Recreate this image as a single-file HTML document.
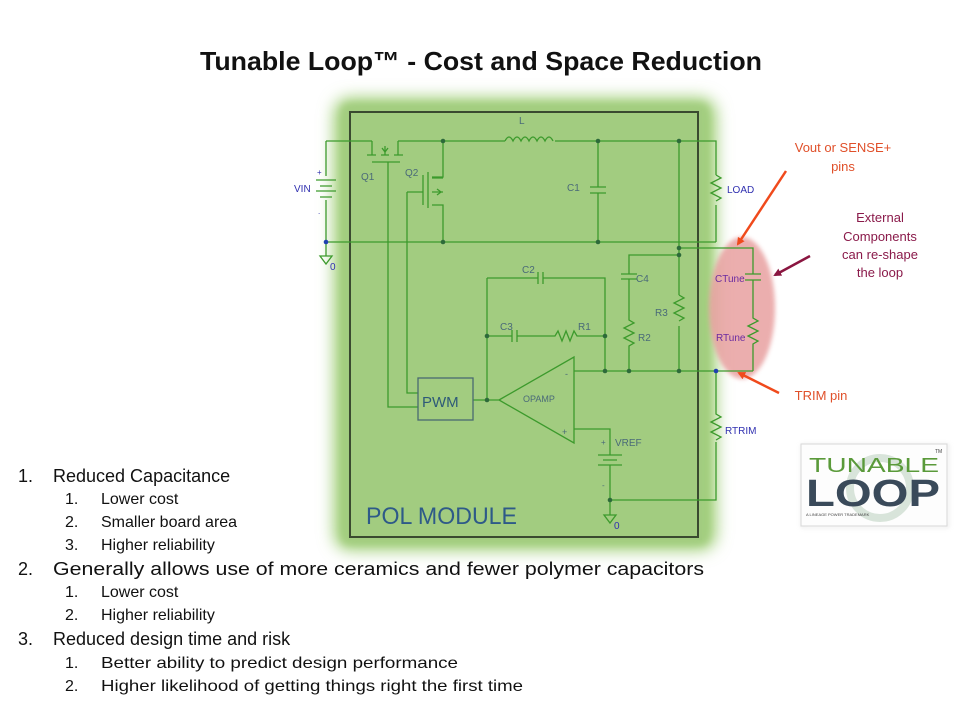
<!DOCTYPE html>
<html><head><meta charset="utf-8"><style>
html,body{margin:0;padding:0;background:#fff;}
svg{display:block;font-family:"Liberation Sans",Arial,sans-serif;}
</style></head><body>
<svg width="960" height="720" viewBox="0 0 960 720" xmlns="http://www.w3.org/2000/svg">
<defs>
<filter id="glow" x="-20%" y="-20%" width="140%" height="140%"><feGaussianBlur stdDeviation="8"/></filter>
<filter id="glow2" x="-20%" y="-20%" width="140%" height="140%"><feGaussianBlur stdDeviation="4"/></filter>
<filter id="soft" x="-20%" y="-20%" width="140%" height="140%"><feGaussianBlur stdDeviation="2"/></filter>
<marker id="ao" markerWidth="8" markerHeight="8" refX="6" refY="4" orient="auto" markerUnits="userSpaceOnUse"><path d="M0,0 L8,4 L0,8 z" fill="#f04a1c"/></marker>
<marker id="ap" markerWidth="8" markerHeight="8" refX="6" refY="4" orient="auto" markerUnits="userSpaceOnUse"><path d="M0,0 L8,4 L0,8 z" fill="#8a1540"/></marker>
</defs>
<rect width="960" height="720" fill="#fff"/>
<text x="481" y="70" text-anchor="middle" font-size="26" font-weight="bold" fill="#111" textLength="562" lengthAdjust="spacingAndGlyphs">Tunable Loop™ - Cost and Space Reduction</text>

<!-- glow module -->
<rect x="334" y="98" width="382" height="452" rx="16" fill="#9ccd72" filter="url(#glow)"/>
<rect x="342" y="104" width="366" height="440" rx="6" fill="#a3cd80" filter="url(#glow2)"/>
<rect x="348" y="110" width="354" height="430" fill="#a2cc80"/>
<rect x="350" y="112" width="348" height="425" fill="none" stroke="#3a4a30" stroke-width="2"/>

<!-- pink ellipse -->
<ellipse cx="742" cy="308" rx="33" ry="71" fill="#e8a0a0" opacity="0.85" filter="url(#soft)"/>

<g stroke="#3c9a2c" stroke-width="1.3" fill="none">
<path d="M326,141 H372 M398,141 H505 M555,141 H716 V175 M716,205 V242"/>
<path d="M505,141 q4,-8 8,0 q4,-8 8,0 q4,-8 8,0 q4,-8 8,0 q4,-8 8,0 q4,-8 8,0"/>
<path d="M326,141 V176 M316,180 H336 M320,186 H332 M316,191 H336 M320,197 H332 M326,200 V242"/>
<path d="M326,242 H716"/>
<path d="M326,242 V256 M320,256 L332,256 L326,264 Z"/>
<path d="M372,141 V155 M398,141 V155 M385,146 V155 M367,155 H376 M381,155 H389 M394,155 H403 M372,162 H400 M388,162 V407 H418"/>
<path d="M382,148 L385,152 L388,148"/>
<path d="M443,141 V177 H432 M428,172 V208 M423,175 V205 M432,178 H443 M432,192 H443 M432,205 H443 V242 M407,192 H423 M407,192 V393 H418"/>
<path d="M437,189 L441,192 L437,195"/>
<path d="M598,141 V187 M590,187 H606 M590,193 H606 M598,193 V242"/>
<path d="M679,141 V295 M679,295 l5,3 l-10,5 l10,5 l-10,5 l10,5 l-5,3 M679,326 V371"/>
<path d="M716,175 l5,3 l-10,5 l10,5 l-10,5 l10,5 l-5,3"/>
<path d="M679,248 H753 V274 M745,274 H761 M745,280 H761 M753,280 V318 l5,3 l-10,5 l10,5 l-10,5 l10,5 l-5,3 V371"/>
<path d="M679,255 H629 V274 M621,274 H637 M621,279 H637 M629,279 V320 l5,3 l-10,5 l10,5 l-10,5 l10,5 l-5,3 V371"/>
<path d="M487,278 H538 M538,272 V284 M543,272 V284 M543,278 H605 V371"/>
<path d="M487,278 V400"/>
<path d="M487,336 H512 M512,330 V342 M517,330 V342 M517,336 H555 l3,-5 l4,10 l4,-10 l4,10 l4,-10 l3,5 H605"/>
<path d="M574,371 H753"/>
<path d="M499,400 L574,357 V443 Z M473,400 H499"/>
<rect x="418" y="378" width="55" height="42" stroke="#4a6a70"/>
<path d="M574,429 H610 V455 M598,455 H622 M603,460 H617 M598,465 H622 M610,465 V515 M604,515 L616,515 L610,523 Z M610,500 H716 V442 M716,371 V414 l5,3 l-10,5 l10,5 l-10,5 l10,5 l-5,3"/>
</g>
<g fill="#2d6a3a">
<circle cx="443" cy="141" r="2.3"/><circle cx="598" cy="141" r="2.3"/><circle cx="679" cy="141" r="2.3"/>
<circle cx="443" cy="242" r="2.3"/><circle cx="598" cy="242" r="2.3"/><circle cx="679" cy="248" r="2.3"/><circle cx="679" cy="255" r="2.3"/>
<circle cx="487" cy="336" r="2.3"/><circle cx="605" cy="336" r="2.3"/><circle cx="487" cy="400" r="2.3"/>
<circle cx="605" cy="371" r="2.3"/><circle cx="629" cy="371" r="2.3"/><circle cx="679" cy="371" r="2.3"/><circle cx="610" cy="500" r="2.3"/>
</g>
<g fill="#2040b0"><circle cx="326" cy="242" r="2.3"/><circle cx="716" cy="371" r="2.3"/></g>

<g font-size="10" fill="#4a6a78">
<text x="519" y="124">L</text>
<text x="361" y="180">Q1</text>
<text x="405" y="176">Q2</text>
<text x="567" y="191">C1</text>
<text x="522" y="273">C2</text>
<text x="636" y="282">C4</text>
<text x="500" y="330">C3</text>
<text x="578" y="330">R1</text>
<text x="655" y="316">R3</text>
<text x="638" y="341">R2</text>
<text x="523" y="402" font-size="9">OPAMP</text>
<text x="565" y="377" font-size="9">-</text>
<text x="562" y="435" font-size="9">+</text>
<text x="615" y="446">VREF</text>
<text x="601" y="445" font-size="8">+</text>
<text x="602" y="488" font-size="8">-</text>
<text x="422" y="407" font-size="15" fill="#2e5a78">PWM</text>
<text x="366" y="524" font-size="24" fill="#2e5a88" textLength="151" lengthAdjust="spacingAndGlyphs">POL MODULE</text>
</g>
<g font-size="10" fill="#3030b0">
<text x="294" y="192">VIN</text>
<text x="317" y="175" font-size="8">+</text>
<text x="318" y="214" font-size="8">.</text>
<text x="330" y="270">0</text>
<text x="614" y="529">0</text>
<text x="727" y="193">LOAD</text>
<text x="725" y="434">RTRIM</text>
<text x="715" y="282" fill="#6a2aa0">CTune</text>
<text x="716" y="341" fill="#6a2aa0">RTune</text>
</g>

<g font-size="13" text-anchor="middle">
<text x="843" y="152" fill="#e0502a">Vout or SENSE+</text>
<text x="843" y="171" fill="#e0502a">pins</text>
<text x="880" y="222" fill="#8a1a4a">External</text>
<text x="880" y="241" fill="#8a1a4a">Components</text>
<text x="880" y="259" fill="#8a1a4a">can re-shape</text>
<text x="880" y="277" fill="#8a1a4a">the loop</text>
<text x="821" y="400" fill="#e0502a">TRIM pin</text>
</g>
<path d="M786,171 L738,244" stroke="#f04a1c" stroke-width="2.5" fill="none" marker-end="url(#ao)"/>
<path d="M779,393 L739,373" stroke="#f04a1c" stroke-width="2.5" fill="none" marker-end="url(#ao)"/>
<path d="M810,256 L775,275" stroke="#8a1540" stroke-width="2.5" fill="none" marker-end="url(#ap)"/>

<rect x="802" y="445" width="146" height="82" fill="#fff" stroke="#ccc" filter="url(#soft)"/>
<rect x="801" y="444" width="146" height="82" fill="#fdfdfd" stroke="#d8d8d8"/>
<ellipse cx="880" cy="488" rx="30" ry="30" fill="none" stroke="#d8e4da" stroke-width="8"/>
<text x="874" y="472" text-anchor="middle" font-size="20" fill="#5a9a3a" textLength="130" lengthAdjust="spacingAndGlyphs">TUNABLE</text>
<text x="873" y="506" text-anchor="middle" font-size="38" font-weight="bold" fill="#3a4a5a" textLength="134" lengthAdjust="spacingAndGlyphs">LOOP</text>
<text x="806" y="516" font-size="4" fill="#444">A LINEAGE POWER TRADEMARK</text>
<text x="935" y="453" font-size="5" fill="#444">TM</text>

<g fill="#111">
<g font-size="18">
<text x="18" y="482">1.</text><text x="53" y="482">Reduced Capacitance</text>
<text x="18" y="575">2.</text><text x="53" y="575" textLength="651" lengthAdjust="spacingAndGlyphs">Generally allows use of more ceramics and fewer polymer capacitors</text>
<text x="18" y="645">3.</text><text x="53" y="645">Reduced design time and risk</text>
</g>
<g font-size="16">
<text x="65" y="504">1.</text><text x="101" y="504">Lower cost</text>
<text x="65" y="527">2.</text><text x="101" y="527">Smaller board area</text>
<text x="65" y="550">3.</text><text x="101" y="550">Higher reliability</text>
<text x="65" y="597">1.</text><text x="101" y="597">Lower cost</text>
<text x="65" y="620">2.</text><text x="101" y="620">Higher reliability</text>
<text x="65" y="668">1.</text><text x="101" y="668" textLength="357" lengthAdjust="spacingAndGlyphs">Better ability to predict design performance</text>
<text x="65" y="691">2.</text><text x="101" y="691" textLength="422" lengthAdjust="spacingAndGlyphs">Higher likelihood of getting things right the first time</text>
</g>
</g>
</svg>
</body></html>
